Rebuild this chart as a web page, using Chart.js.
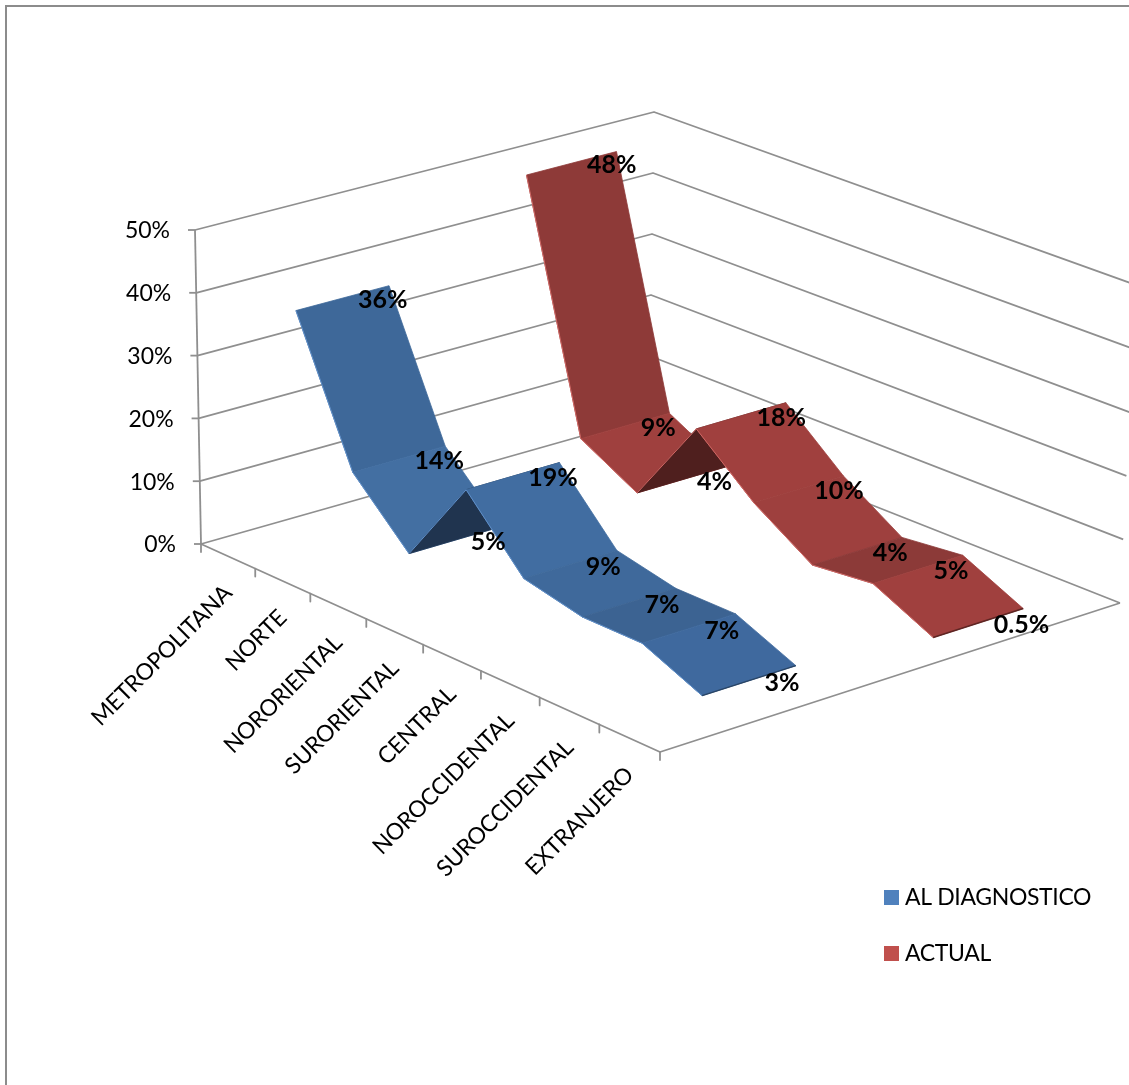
<!DOCTYPE html>
<html>
<head>
<meta charset="utf-8">
<title>Procedencia</title>
<script src="https://cdn.jsdelivr.net/npm/chart.js@4"></script>
<style>
    html, body { margin: 0; padding: 0; background: #fff; overflow: hidden; }
    #frame { position: absolute; left: 5px; top: 5px; right: 0; bottom: 0; border-left: 2px solid #8c8c8c; border-top: 2px solid #8c8c8c; }
    #chart { position: absolute; left: 0; top: 0; }
</style>
</head>
<body>
<div id="frame"></div>
<canvas id="chart" width="1129" height="1085"></canvas>
<script>
const categories = ['METROPOLITANA', 'NORTE', 'NORORIENTAL', 'SURORIENTAL', 'CENTRAL', 'NOROCCIDENTAL', 'SUROCCIDENTAL', 'EXTRANJERO'];
const alDiagnostico = [36, 14, 5, 19, 9, 7, 7, 3];
const actual = [48, 9, 4, 18, 10, 4, 5, 0.5];
const valueTicks = [0, 10, 20, 30, 40, 50];
const seriesNames = ['AL DIAGNOSTICO', 'ACTUAL'];

// corners of the 3D box on screen: floor and top, front-left / front-right / back-left / back-right
const floorCorners = [[201, 544], [660, 752], [649, 417], [1120, 603]];
const topCorners = [[195, 230], [667, 427], [654, 112], [1136, 285]];
const maxValue = 50;
// categories get wider towards the viewer
const perspective = 1.066;

// depth band of each ribbon and its colours, one face colour per segment
const blueStyle = {
    near: 0.157, far: 0.361, edge: '#5f8fc9', end: '#2a4566',
    faces: ['#3e6899', '#436fa2', '#20344f', '#416da1', '#3f699b', '#3c6392', '#3f699e']
};
const redStyle = {
    near: 0.661, far: 0.857, edge: '#cf6764', end: '#5e2523',
    faces: ['#8e3a38', '#9f403e', '#4f1f1e', '#a0403e', '#9e403e', '#8c3a38', '#a0403e']
};

const gridColor = '#8f8f8f';
const gridWidth = 1.8;
const legendColors = ['#4f81bd', '#c0504d'];
const textFont = 'Lato, "Liberation Sans", sans-serif';

function lerp(p, q, t) {
    return [p[0] + (q[0] - p[0]) * t, p[1] + (q[1] - p[1]) * t];
}

function cornerMix(corners, u, w) {
    return lerp(lerp(corners[0], corners[1], u), lerp(corners[2], corners[3], u), w);
}

// box coordinates (category, depth, value) to plot coordinates
function project(cat, depth, value) {
    const t = cat / categories.length;
    const u = t / (t + perspective * (1 - t));
    const p = lerp(cornerMix(floorCorners, u, depth), cornerMix(topCorners, u, depth), value / maxValue);
    return { x: p[0], y: p[1] };
}

const datasets = [];

function addLine(points, color, width, fillColor) {
    datasets.push({
        data: points,
        showLine: true,
        borderColor: color,
        borderWidth: width,
        backgroundColor: fillColor || 'transparent',
        fill: fillColor ? 'shape' : false,
        pointRadius: 0,
        tension: 0,
        borderJoinStyle: 'round'
    });
}

function addWalls() {
    valueTicks.forEach(v => {
        addLine([project(0, 0, v), project(0, 1, v), project(8, 1, v)], gridColor, gridWidth);
        const p = project(0, 0, v);
        addLine([{ x: p.x - 7, y: p.y }, p], gridColor, gridWidth);
    });
    addLine([project(0, 0, 0), project(0, 0, maxValue)], gridColor, gridWidth);
    addLine([project(0, 0, 0), project(8, 0, 0), project(8, 1, 0)], gridColor, gridWidth);
    categories.forEach((name, i) => {
        const p = project(i, 0, 0);
        addLine([p, { x: p.x, y: p.y + 8 }], gridColor, gridWidth);
    });
    const last = project(8, 0, 0);
    addLine([last, { x: last.x, y: last.y + 8 }], gridColor, gridWidth);
}

function addRibbon(values, style) {
    for (let i = 0; i < values.length - 1; i++) {
        const nearA = project(i + 0.5, style.near, values[i]);
        const farA = project(i + 0.5, style.far, values[i]);
        const nearB = project(i + 1.5, style.near, values[i + 1]);
        const farB = project(i + 1.5, style.far, values[i + 1]);
        addLine([nearA, farA, farB, nearB, nearA], style.faces[i], 0.8, style.faces[i]);
        addLine([nearA, nearB], style.edge, 1);
    }
    const n = values.length - 1;
    addLine([project(n + 0.5, style.near, values[n]), project(n + 0.5, style.far, values[n])], style.end, 1.5);
}

addWalls();
addRibbon(actual, redStyle);
addRibbon(alDiagnostico, blueStyle);
// first dataset goes down first
datasets.forEach((ds, i) => { ds.order = datasets.length - i; });

const textPlugin = {
    id: 'chartText',
    afterDatasetsDraw(chart) {
        const ctx = chart.ctx;
        const sx = chart.scales.x;
        const sy = chart.scales.y;
        ctx.save();
        ctx.fillStyle = '#000';

        // value axis
        ctx.font = '23px ' + textFont;
        ctx.textAlign = 'right';
        ctx.textBaseline = 'middle';
        valueTicks.forEach(v => {
            const p = project(0, 0, v);
            ctx.fillText(v + '%', sx.getPixelForValue(p.x - 25), sy.getPixelForValue(p.y + 1));
        });

        // category labels, rotated
        ctx.letterSpacing = '-0.35px';
        categories.forEach((name, i) => {
            const p = project(i + 0.5, 0, 0);
            ctx.save();
            ctx.translate(sx.getPixelForValue(p.x), sy.getPixelForValue(p.y + 33));
            ctx.rotate(-Math.PI / 4);
            ctx.fillText(name, 0, 0);
            ctx.restore();
        });
        ctx.letterSpacing = '0px';

        // value labels
        ctx.font = 'bold 25px ' + textFont;
        ctx.textAlign = 'left';
        [[alDiagnostico, blueStyle], [actual, redStyle]].forEach(([values, style]) => {
            values.forEach((v, i) => {
                const p = project(i + 0.5, (style.near + style.far) / 2, v);
                ctx.fillText(v + '%', sx.getPixelForValue(p.x + 15.5), sy.getPixelForValue(p.y + 2));
            });
        });

        // legend
        ctx.font = '23px ' + textFont;
        ctx.letterSpacing = '-0.35px';
        seriesNames.forEach((name, i) => {
            const top = 890 + i * 56;
            ctx.fillStyle = legendColors[i];
            ctx.fillRect(sx.getPixelForValue(884), sy.getPixelForValue(top), 15, 15);
            ctx.fillStyle = '#000';
            ctx.fillText(name, sx.getPixelForValue(905), sy.getPixelForValue(top + 8));
        });
        ctx.restore();
    }
};

new Chart(document.getElementById('chart'), {
    type: 'scatter',
    data: { datasets: datasets },
    plugins: [textPlugin],
    options: {
        responsive: false,
        animation: false,
        layout: { padding: 0 },
        plugins: { legend: { display: false }, tooltip: { enabled: false } },
        scales: {
            x: { type: 'linear', display: false, min: 0, max: 1129 },
            y: { type: 'linear', display: false, min: 0, max: 1085, reverse: true }
        }
    }
});
</script>
</body>
</html>
